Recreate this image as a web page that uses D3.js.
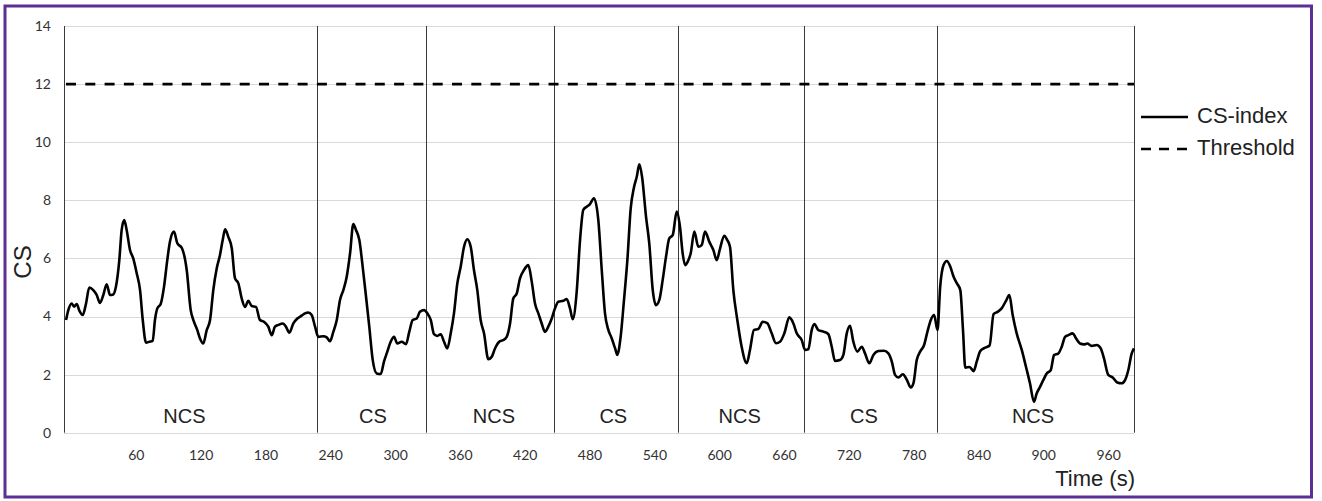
<!DOCTYPE html>
<html>
<head>
<meta charset="utf-8">
<script src="https://cdn.jsdelivr.net/npm/d3@7"></script>
<style>
  html, body { margin: 0; padding: 0; background: #ffffff; }
  svg { display: block; }
</style>
</head>
<body>
<svg id="chart" width="1322" height="501"></svg>
<script>
// CS-index over time, [seconds, CS]
const csIndexSeries = [
  [-4.6,3.88],[-2.5,4.22],[0.6,4.45],[2.8,4.34],[5.3,4.43],[7.7,4.20],[10.8,4.05],[13.9,4.45],
  [16.9,5.00],[20.6,4.91],[23.8,4.74],[26.8,4.47],[29.9,4.74],[33.0,5.11],[36.1,4.74],[39.1,4.76],
  [41.6,5.03],[44.7,5.94],[46.9,6.98],[49.3,7.32],[51.5,6.98],[54.6,6.29],[57.6,6.00],[60.8,5.49],
  [63.9,4.91],[66.4,3.88],[69.4,3.10],[72.5,3.13],[75.6,3.16],[77.7,3.88],[79.9,4.28],[83.0,4.43],
  [86.1,5.03],[89.1,5.94],[91.6,6.58],[95.3,6.92],[98.4,6.52],[102.7,6.35],[107.1,5.60],[110.8,4.22],
  [113.2,3.88],[116.9,3.53],[119.3,3.25],[122.4,3.07],[125.6,3.53],[128.7,3.88],[131.7,4.91],[134.9,5.66],
  [137.9,6.12],[140.4,6.63],[142.6,7.00],[145.6,6.74],[148.8,6.35],[151.8,5.31],[154.9,5.14],[158.0,4.62],
  [161.1,4.33],[164.1,4.54],[167.3,4.36],[171.2,4.33],[174.9,3.88],[178.6,3.82],[182.6,3.65],[185.8,3.36],
  [188.8,3.65],[191.9,3.71],[195.9,3.76],[199.0,3.65],[202.1,3.44],[205.8,3.76],[209.5,3.93],[213.5,4.03],
  [216.6,4.11],[219.6,4.14],[222.8,4.05],[225.9,3.65],[228.9,3.30],[233.5,3.32],[236.7,3.28],[239.7,3.15],
  [242.8,3.47],[246.0,3.88],[249.0,4.57],[252.1,4.91],[255.2,5.37],[258.3,6.17],[261.3,7.18],[263.8,6.98],
  [266.9,6.63],[270.0,5.71],[273.1,4.68],[276.1,3.65],[279.3,2.50],[283.0,2.04],[286.7,2.02],[289.7,2.45],
  [292.8,2.79],[295.9,3.13],[299.0,3.30],[302.0,3.07],[306.1,3.13],[310.1,3.05],[313.1,3.47],[316.3,3.88],
  [320.0,3.93],[323.0,4.16],[326.8,4.22],[329.8,4.11],[333.0,3.88],[336.0,3.39],[339.1,3.33],[342.2,3.39],
  [345.3,3.13],[348.3,2.90],[351.5,3.42],[354.5,4.11],[357.6,5.14],[360.7,5.71],[363.8,6.40],[366.8,6.66],
  [370.0,6.40],[373.0,5.60],[376.1,4.91],[379.2,3.88],[382.3,3.42],[386.3,2.53],[389.4,2.61],[392.5,2.90],
  [396.4,3.13],[400.2,3.19],[403.3,3.30],[406.4,3.76],[409.4,4.62],[412.6,4.79],[415.6,5.31],[419.3,5.60],
  [423.3,5.77],[426.5,5.20],[429.5,4.45],[432.6,4.11],[435.7,3.76],[438.8,3.47],[441.8,3.65],[445.0,3.93],
  [448.0,4.28],[451.1,4.51],[455.7,4.54],[458.8,4.60],[461.9,4.28],[464.4,3.91],[468.1,4.85],[471.2,6.63],
  [474.2,7.67],[477.4,7.78],[480.4,7.87],[484.1,8.07],[488.1,7.33],[491.3,5.60],[494.3,4.11],[497.4,3.54],
  [500.5,3.25],[503.6,2.91],[505.7,2.68],[508.8,3.31],[511.9,4.57],[515.0,5.94],[518.1,7.72],[521.2,8.46],
  [523.7,8.81],[526.1,9.24],[528.6,8.81],[532.3,7.43],[535.3,6.51],[538.5,4.91],[541.5,4.39],[544.6,4.57],
  [547.7,5.26],[550.8,6.06],[553.8,6.69],[557.0,6.80],[560.7,7.61],[563.7,7.09],[566.2,6.17],[568.4,5.77],
  [570.9,5.89],[573.6,6.17],[577.0,6.92],[580.7,6.40],[583.8,6.46],[586.9,6.92],[590.9,6.57],[594.6,6.29],
  [597.7,5.94],[600.8,6.34],[604.7,6.78],[607.5,6.63],[610.0,6.40],[613.1,4.91],[616.8,3.88],[620.8,2.96],
  [625.5,2.39],[628.5,2.85],[632.2,3.54],[636.2,3.57],[640.3,3.82],[644.5,3.77],[648.6,3.42],[652.6,3.08],
  [656.3,3.13],[660.3,3.42],[664.9,3.97],[668.6,3.77],[671.8,3.42],[676.4,3.19],[679.5,2.85],[682.5,2.87],
  [685.7,3.54],[688.1,3.74],[691.8,3.53],[696.4,3.48],[701.1,3.39],[704.2,2.96],[707.2,2.47],[711.8,2.50],
  [714.9,2.67],[718.1,3.42],[721.1,3.68],[724.2,3.13],[727.9,2.79],[732.0,2.96],[735.0,2.73],[739.0,2.39],
  [742.7,2.67],[747.4,2.81],[752.6,2.82],[756.6,2.73],[759.8,2.45],[762.8,1.99],[765.9,1.90],[770.0,2.01],
  [773.7,1.82],[777.4,1.56],[779.8,1.70],[782.9,2.50],[786.0,2.79],[789.7,3.02],[792.8,3.48],[795.9,3.88],
  [799.0,4.05],[802.1,3.53],[804.6,5.03],[807.7,5.77],[810.8,5.91],[813.9,5.72],[817.0,5.37],[820.1,5.14],
  [823.2,4.91],[825.7,3.53],[827.8,2.24],[831.8,2.26],[835.5,2.12],[838.6,2.47],[841.7,2.81],[846.3,2.93],
  [850.3,3.00],[854.0,4.08],[857.7,4.16],[861.5,4.28],[865.5,4.54],[868.6,4.74],[871.7,4.05],[875.4,3.42],
  [880.1,2.85],[884.0,2.27],[887.7,1.70],[891.4,1.06],[893.9,1.35],[897.0,1.58],[900.0,1.81],[903.2,2.04],
  [906.9,2.15],[910.0,2.67],[914.0,2.73],[917.1,2.96],[920.2,3.30],[923.2,3.36],[927.3,3.42],[930.3,3.25],
  [934.0,3.07],[937.7,3.04],[940.8,3.07],[944.8,2.99],[949.5,3.02],[953.2,2.90],[956.2,2.56],[960.2,1.99],
  [964.3,1.90],[968.5,1.73],[972.6,1.70],[975.7,1.81],[978.7,2.15],[981.9,2.73],[984.0,2.90]
];

const thresholdValue = 12;

// Phase boundaries (s) and the conditioning phase names
const phaseEdges = [228, 329, 447, 562, 678.5, 801.5];
const phaseLabels = ["NCS", "CS", "NCS", "CS", "NCS", "CS", "NCS"];
const phaseLabelTimes = [105, 279.5, 391.5, 502, 619, 734, 890.5];

const timeTicks = [60, 120, 180, 240, 300, 360, 420, 480, 540, 600, 660, 720, 780, 840, 900, 960];
const csTicks = [0, 2, 4, 6, 8, 10, 12, 14];

const legendItems = [
  { name: "CS-index", dash: null },
  { name: "Threshold", dash: "10,8" }
];

const svg = d3.select("#chart");
const tickFont = "Lato, 'Open Sans', sans-serif";
const textFont = "'Liberation Sans', Arial, sans-serif";

const x = d3.scaleLinear().domain([-6.5, 984]).range([64, 1134]);
const y = d3.scaleLinear().domain([0, 14]).range([432.7, 26]);
const [t0, t1] = x.domain();

// Outer frame
svg.append("rect")
  .attr("x", 5).attr("y", 6)
  .attr("width", 1306.5).attr("height", 491)
  .attr("fill", "none")
  .attr("stroke", "#5b2f93")
  .attr("stroke-width", 3);

// Horizontal gridlines
svg.append("g")
  .selectAll("line")
  .data(csTicks)
  .join("line")
  .attr("x1", x(t0)).attr("x2", x(t1))
  .attr("y1", d => Math.round(y(d)) + 0.5)
  .attr("y2", d => Math.round(y(d)) + 0.5)
  .attr("stroke", "#d9d9d9")
  .attr("stroke-width", 1);

// Y axis tick labels
const yAxis = svg.append("g")
  .attr("transform", `translate(${x(t0)},0)`)
  .call(d3.axisLeft(y).tickValues(csTicks).tickSize(0).tickPadding(13).tickFormat(d3.format("d")));
yAxis.select(".domain").remove();
yAxis.selectAll("text")
  .attr("font-family", tickFont)
  .attr("font-size", 14)
  .attr("fill", "#333333");

// X axis tick labels
const xAxis = svg.append("g")
  .attr("transform", `translate(0,${y(0)})`)
  .call(d3.axisBottom(x).tickValues(timeTicks).tickSize(0).tickPadding(17).tickFormat(d3.format("d")));
xAxis.select(".domain").remove();
xAxis.selectAll("text")
  .attr("font-family", tickFont)
  .attr("font-size", 14)
  .attr("fill", "#333333");

// Phase boundary lines (including both ends of the time axis)
const edges = [t0, ...phaseEdges, t1];
svg.append("g")
  .selectAll("line")
  .data(edges)
  .join("line")
  .attr("x1", d => Math.round(x(d)) + 0.5)
  .attr("x2", d => Math.round(x(d)) + 0.5)
  .attr("y1", y(14))
  .attr("y2", y(0))
  .attr("stroke", "#3a3a3a")
  .attr("stroke-width", 1);

// Threshold
svg.append("line")
  .attr("x1", x(t0) + 2).attr("x2", x(t1))
  .attr("y1", y(thresholdValue)).attr("y2", y(thresholdValue))
  .attr("stroke", "#000")
  .attr("stroke-width", 2.6)
  .attr("stroke-dasharray", "10,9.3");

// CS-index line
const line = d3.line()
  .x(d => x(d[0]))
  .y(d => y(d[1]))
  .curve(d3.curveMonotoneX);

svg.append("path")
  .datum(csIndexSeries)
  .attr("d", line)
  .attr("fill", "none")
  .attr("stroke", "#000")
  .attr("stroke-width", 2.6)
  .attr("stroke-linejoin", "round");

// Phase labels
svg.append("g")
  .selectAll("text")
  .data(phaseLabels)
  .join("text")
  .attr("x", (d, i) => x(phaseLabelTimes[i]))
  .attr("y", 422.7)
  .attr("text-anchor", "middle")
  .attr("font-family", textFont)
  .attr("font-size", 20)
  .attr("fill", "#222")
  .text(d => d);

// Axis titles
svg.append("text")
  .attr("transform", "translate(31,262) rotate(-90)")
  .attr("text-anchor", "middle")
  .attr("font-family", textFont)
  .attr("font-size", 24)
  .attr("fill", "#222")
  .text("CS");

svg.append("text")
  .attr("x", 1135).attr("y", 486)
  .attr("text-anchor", "end")
  .attr("font-family", textFont)
  .attr("font-size", 22)
  .attr("fill", "#222")
  .text("Time (s)");

// Legend
const legend = svg.append("g").attr("transform", "translate(1141,117)");
const item = legend.selectAll("g")
  .data(legendItems)
  .join("g")
  .attr("transform", (d, i) => `translate(0,${i * 32})`);
item.append("line")
  .attr("x1", 0).attr("x2", 47)
  .attr("y1", 0).attr("y2", 0)
  .attr("stroke", "#000")
  .attr("stroke-width", 2.6)
  .attr("stroke-dasharray", d => d.dash);
item.append("text")
  .attr("x", 56).attr("y", 6)
  .attr("font-family", textFont)
  .attr("font-size", 22)
  .attr("fill", "#222")
  .text(d => d.name);
</script>
</body>
</html>
